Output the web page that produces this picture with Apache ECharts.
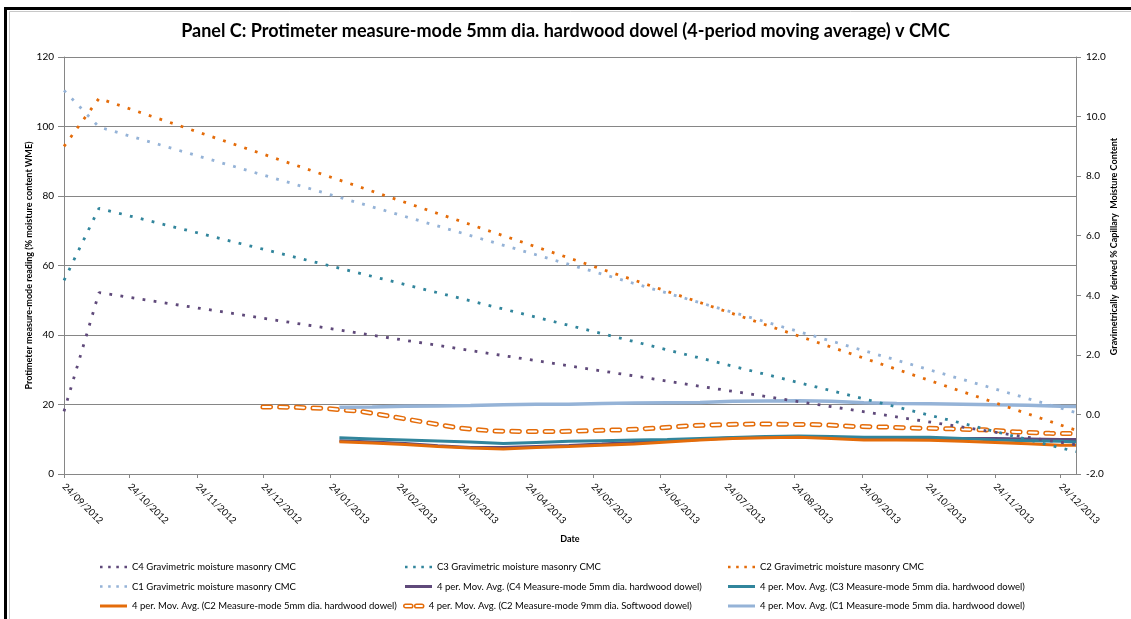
<!DOCTYPE html>
<html>
<head>
<meta charset="utf-8">
<title>Panel C</title>
<script src="https://cdn.jsdelivr.net/npm/echarts@6/dist/echarts.min.js"></script>
<style>
  html, body { margin: 0; padding: 0; background: #fff; }
  #chart { width: 1131px; height: 619px; }
</style>
</head>
<body>
<div id="chart"></div>
<script>
// axis ticks / labels: the 24th of every month
var tickDates = ['2012-09-24', '2012-10-24', '2012-11-24', '2012-12-24', '2013-01-24', '2013-02-24',
  '2013-03-24', '2013-04-24', '2013-05-24', '2013-06-24', '2013-07-24', '2013-08-24',
  '2013-09-24', '2013-10-24', '2013-11-24', '2013-12-24'];
var axisStart = '2012-09-24';
var axisEnd = '2013-12-31';

// gravimetric CMC (right axis)
var gravDates = ['2012-09-24', '2012-10-10', '2013-12-31'];
var c4Grav = [0.1, 4.09, -1.02];
var c3Grav = [4.5, 6.92, -1.25];
var c2Grav = [9.0, 10.61, -0.53];
var c1Grav = [10.88, 9.65, 0.06];

// 4 period moving average, C2 9mm softwood dowel (left axis)
var softDates = ['2012-12-24', '2013-01-08', '2013-01-23', '2013-02-07', '2013-02-22', '2013-03-09',
  '2013-03-24', '2013-04-08', '2013-04-23', '2013-05-08', '2013-05-23', '2013-06-07', '2013-06-22',
  '2013-07-07', '2013-07-22', '2013-08-06', '2013-08-21', '2013-09-05', '2013-09-20', '2013-10-05',
  '2013-10-20', '2013-11-04', '2013-11-19', '2013-12-04', '2013-12-19', '2013-12-31'];
var c2SoftMA = [19.3, 19.2, 18.8, 18.0, 16.4, 14.8, 13.2, 12.4, 12.2, 12.2, 12.5, 12.7, 13.2,
  13.9, 14.2, 14.4, 14.3, 14.2, 13.7, 13.5, 13.2, 13.0, 12.7, 12.1, 11.7, 11.6];

// 4 period moving averages, 5mm hardwood dowel (left axis)
var hardDates = ['2013-01-28', '2013-02-12', '2013-02-27', '2013-03-14', '2013-03-29', '2013-04-13',
  '2013-04-28', '2013-05-13', '2013-05-28', '2013-06-12', '2013-06-27', '2013-07-12', '2013-07-27',
  '2013-08-11', '2013-08-26', '2013-09-10', '2013-09-25', '2013-10-10', '2013-10-25', '2013-11-09',
  '2013-11-24', '2013-12-09', '2013-12-24', '2013-12-31'];
var c4MA = [9.6, 9.2, 8.8, 8.1, 7.6, 7.6, 7.9, 8.2, 8.6, 9.1, 9.5, 9.9, 10.4, 10.6, 10.7, 10.5,
  10.2, 10.2, 10.2, 10.2, 10.2, 10.1, 9.9, 9.9];
var c3MA = [10.4, 10.1, 9.8, 9.5, 9.2, 8.8, 9.1, 9.4, 9.6, 9.8, 9.9, 10.2, 10.5, 10.8, 10.9, 10.8,
  10.6, 10.6, 10.6, 10.2, 9.8, 9.6, 9.4, 9.2];
var c2MA = [9.3, 8.9, 8.5, 7.9, 7.5, 7.2, 7.6, 7.9, 8.3, 8.6, 9.2, 9.8, 10.2, 10.4, 10.6, 10.2,
  9.8, 9.8, 9.7, 9.4, 9.1, 8.7, 8.3, 8.3];
var c1MA = [19.2, 19.3, 19.5, 19.6, 19.7, 19.9, 20.1, 20.1, 20.3, 20.4, 20.5, 20.6, 20.9, 21.0,
  21.1, 20.9, 20.5, 20.3, 20.2, 20.1, 19.9, 19.8, 19.5, 19.4];

var FONT = 'Lato';
var cPurple = '#5F497A', cTeal = '#31859C', cOrange = '#E46C0A', cBlue = '#95B3D7';
var DAY = 86400000;

// x axis works in whole days counted from the first date
function dayOf(s) {
  var p = s.split('-');
  return Math.round((Date.UTC(+p[0], +p[1] - 1, +p[2]) - Date.UTC(2012, 8, 24)) / DAY);
}
function pad(n) { return n < 10 ? '0' + n : '' + n; }
function pairs(dates, vals) {
  return dates.map(function (d, i) { return [dayOf(d), vals[i]]; });
}

var nGrav = [
  'C4 Gravimetric moisture masonry CMC',
  'C3 Gravimetric moisture masonry CMC',
  'C2 Gravimetric moisture masonry CMC',
  'C1 Gravimetric moisture masonry CMC'
];
var nMA = [
  '4 per. Mov. Avg. (C4 Measure-mode 5mm dia. hardwood dowel)',
  '4 per. Mov. Avg. (C3 Measure-mode 5mm dia. hardwood dowel)',
  '4 per. Mov. Avg. (C2 Measure-mode 5mm dia. hardwood dowel)',
  '4 per. Mov. Avg. (C2 Measure-mode 9mm dia. Softwood dowel)',
  '4 per. Mov. Avg. (C1 Measure-mode 5mm dia. hardwood dowel)'
];

var chart = echarts.init(document.getElementById('chart'));

function maLine(name, color, dates, vals, width) {
  return {
    name: name, type: 'line', yAxisIndex: 0, symbol: 'none', smooth: false,
    lineStyle: { color: color, width: width || 3 },
    itemStyle: { color: color },
    data: pairs(dates, vals)
  };
}
function gravLine(name, color, vals) {
  return {
    name: name, type: 'line', yAxisIndex: 1, symbol: 'none', smooth: false,
    lineStyle: { color: color, width: 2.8, type: [2.8, 8.4], cap: 'butt' },
    itemStyle: { color: color },
    data: pairs(gravDates, vals)
  };
}

// legend icons drawn as paths so no marker sits on the line
var dotIcon = 'path://M0,0h2.5v2.5h-2.5zM8,0h2.5v2.5h-2.5zM16,0h2.5v2.5h-2.5zM24,0h2.5v2.5h-2.5z';
var lineIcon = 'path://M0,0h27v3h-27z';
var hollowIcon = 'path://M2,0H8A2,2,0,0,1,8,4H2A2,2,0,0,1,2,0ZM14,0H20A2,2,0,0,1,20,4H14A2,2,0,0,1,14,0Z';
function legItem(name, icon, color) {
  return { name: name, icon: icon, itemStyle: { color: color, borderWidth: 0 } };
}

var legendBase = {
  orient: 'vertical', padding: 0, itemWidth: 27, itemHeight: 10, itemGap: 9.5,
  textStyle: { fontFamily: FONT, fontSize: 9.5, color: '#000' }
};

var tickDays = tickDates.map(dayOf);

var option = {
  backgroundColor: '#fff',
  animation: false,
  title: {
    text: 'Panel C: Protimeter measure-mode 5mm dia. hardwood dowel (4-period moving average) v CMC',
    left: 'center', top: 22, padding: 0,
    textStyle: { fontFamily: FONT, fontSize: 18, fontWeight: 'bold', color: '#000' }
  },
  grid: { left: 64, right: 55, top: 57, bottom: 145, containLabel: false },
  legend: [
    Object.assign({}, legendBase, { left: 100, top: 562,
      data: [legItem(nGrav[0], dotIcon, cPurple), legItem(nGrav[3], dotIcon, cBlue),
        legItem(nMA[2], lineIcon, cOrange)] }),
    Object.assign({}, legendBase, { left: 405, top: 562,
      data: [legItem(nGrav[1], dotIcon, cTeal), legItem(nMA[0], lineIcon, cPurple)] }),
    Object.assign({}, legendBase, { left: 403, top: 601, itemWidth: 20,
      data: [{ name: nMA[3], icon: hollowIcon,
        itemStyle: { color: '#fff', borderColor: cOrange, borderWidth: 1.5 } }] }),
    Object.assign({}, legendBase, { left: 728, top: 562,
      data: [legItem(nGrav[2], dotIcon, cOrange), legItem(nMA[1], lineIcon, cTeal),
        legItem(nMA[4], lineIcon, cBlue)] })
  ],
  xAxis: {
    type: 'value',
    min: dayOf(axisStart), max: dayOf(axisEnd),
    name: 'Date', nameLocation: 'middle', nameGap: 61, nameMoveOverlap: false,
    nameTextStyle: { fontFamily: FONT, fontSize: 9, fontWeight: 'bold', color: '#000' },
    axisLine: { lineStyle: { color: '#868686', width: 1 } },
    axisTick: { show: true, length: 4, lineStyle: { color: '#868686' }, customValues: tickDays },
    axisLabel: {
      customValues: tickDays,
      rotate: -45, margin: 11, hideOverlap: false,
      fontFamily: FONT, fontSize: 9.5, color: '#000',
      formatter: function (v) {
        var d = new Date(Date.UTC(2012, 8, 24) + v * DAY);
        return pad(d.getUTCDate()) + '/' + pad(d.getUTCMonth() + 1) + '/' + d.getUTCFullYear();
      }
    },
    splitLine: { show: false }
  },
  yAxis: [
    {
      type: 'value', min: 0, max: 120, interval: 20, position: 'left',
      name: 'Protimeter measure-mode reading (% moisture content WME)',
      nameLocation: 'middle', nameGap: 30, nameMoveOverlap: false,
      nameTextStyle: { fontFamily: FONT, fontSize: 9, fontWeight: 'bold', color: '#000' },
      axisLine: { show: true, lineStyle: { color: '#868686', width: 1 } },
      axisTick: { show: true, length: 6, lineStyle: { color: '#868686' } },
      axisLabel: { margin: 10, fontFamily: FONT, fontSize: 10, color: '#000' },
      splitLine: { show: true, lineStyle: { color: '#868686', width: 1 } }
    },
    {
      type: 'value', min: -2, max: 12, interval: 2, position: 'right',
      name: 'Gravimetrically  derived % Capillary  Moisture Content',
      nameLocation: 'middle', nameGap: 34, nameRotate: 90, nameMoveOverlap: false,
      nameTextStyle: { fontFamily: FONT, fontSize: 9, fontWeight: 'bold', color: '#000',
        padding: [0, 0, 0, 38] },
      axisLine: { show: true, lineStyle: { color: '#868686', width: 1 } },
      axisTick: { show: true, length: 5, lineStyle: { color: '#868686' } },
      axisLabel: { margin: 10, fontFamily: FONT, fontSize: 10, color: '#000',
        formatter: function (v) { return v.toFixed(1); } },
      splitLine: { show: false }
    }
  ],
  graphic: [
    { type: 'line', shape: { x1: 9.5, y1: 11.5, x2: 9.5, y2: 619 }, style: { stroke: '#c8c8c8', lineWidth: 1 } },
    { type: 'line', shape: { x1: 9.5, y1: 11.5, x2: 1131, y2: 11.5 }, style: { stroke: '#c8c8c8', lineWidth: 1 } },
    { type: 'rect', shape: { x: 4, y: 7, width: 3, height: 612 }, style: { fill: '#000' } },
    { type: 'rect', shape: { x: 4, y: 7, width: 1127, height: 3 }, style: { fill: '#000' } }
  ],
  series: [
    maLine(nMA[0], cPurple, hardDates, c4MA),
    maLine(nMA[1], cTeal, hardDates, c3MA),
    maLine(nMA[2], cOrange, hardDates, c2MA),
    {
      name: nMA[3], type: 'line', yAxisIndex: 0, symbol: 'none',
      lineStyle: { color: cOrange, width: 5, type: [7.7, 9], cap: 'round' },
      itemStyle: { color: cOrange },
      data: pairs(softDates, c2SoftMA)
    },
    {
      name: 'softwood-inner', type: 'line', yAxisIndex: 0, symbol: 'none', silent: true,
      lineStyle: { color: '#fff', width: 2, type: [7.7, 9], cap: 'round' },
      data: pairs(softDates, c2SoftMA)
    },
    maLine(nMA[4], cBlue, hardDates, c1MA, 3.5),
    gravLine(nGrav[0], cPurple, c4Grav),
    gravLine(nGrav[1], cTeal, c3Grav),
    gravLine(nGrav[2], cOrange, c2Grav),
    gravLine(nGrav[3], cBlue, c1Grav)
  ]
};

chart.setOption(option);
</script>
</body>
</html>
